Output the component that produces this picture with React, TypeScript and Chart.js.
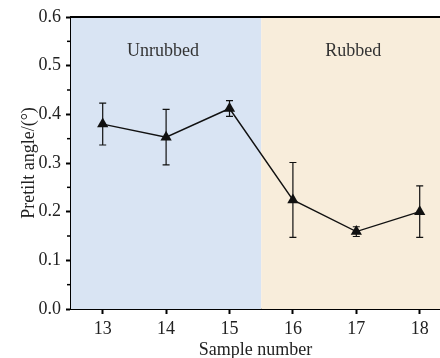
import React, { useEffect, useRef } from "react";
import { Chart, registerables } from "chart.js";

Chart.register(...registerables);

const samples = [13, 14, 15, 16, 17, 18];
const pretilt = [0.38, 0.353, 0.412, 0.224, 0.159, 0.2];
const errors = [0.043, 0.057, 0.016, 0.077, 0.01, 0.053];
const yTicks = [0, 0.1, 0.2, 0.3, 0.4, 0.5, 0.6];
const yMinorTicks = [0.05, 0.15, 0.25, 0.35, 0.45, 0.55];
const regionLabels = ["Unrubbed", "Rubbed"];
const regionSplit = 15.5;

const FONT = "'Liberation Serif', 'DejaVu Serif', serif";

const bgPlugin = {
  id: "bgRegions",
  beforeDatasetsDraw(chart: any) {
    const { ctx, chartArea, scales } = chart;
    const xs = scales.x.getPixelForValue(regionSplit);
    ctx.save();
    ctx.fillStyle = "#d9e4f3";
    ctx.fillRect(chartArea.left, chartArea.top, xs - chartArea.left, chartArea.bottom - chartArea.top);
    ctx.fillStyle = "#f8eddb";
    ctx.fillRect(xs, chartArea.top, chartArea.right - xs, chartArea.bottom - chartArea.top);
    ctx.fillStyle = "#333";
    ctx.font = "18px " + FONT;
    ctx.textAlign = "center";
    ctx.textBaseline = "middle";
    ctx.fillText(regionLabels[0], scales.x.getPixelForValue(13.95), scales.y.getPixelForValue(0.53));
    ctx.fillText(regionLabels[1], scales.x.getPixelForValue(16.95), scales.y.getPixelForValue(0.53));
    ctx.restore();
  },
};

const errPlugin = {
  id: "errBars",
  afterDatasetsDraw(chart: any) {
    const { ctx, scales } = chart;
    ctx.save();
    ctx.strokeStyle = "#111";
    ctx.lineWidth = 1.2;
    samples.forEach((s, i) => {
      const x = scales.x.getPixelForValue(s);
      const yt = scales.y.getPixelForValue(pretilt[i] + errors[i]);
      const yb = scales.y.getPixelForValue(pretilt[i] - errors[i]);
      ctx.beginPath();
      ctx.moveTo(x, yt);
      ctx.lineTo(x, yb);
      ctx.moveTo(x - 3.5, yt);
      ctx.lineTo(x + 3.5, yt);
      ctx.moveTo(x - 3.5, yb);
      ctx.lineTo(x + 3.5, yb);
      ctx.stroke();
    });
    ctx.restore();
  },
  afterDraw(chart: any) {
    const { ctx, chartArea, scales } = chart;
    ctx.save();
    ctx.strokeStyle = "#000";
    ctx.lineWidth = 2;
    ctx.beginPath();
    ctx.moveTo(chartArea.left - 1, chartArea.top);
    ctx.lineTo(chart.width, chartArea.top);
    ctx.stroke();
    ctx.lineWidth = 1.5;
    yMinorTicks.forEach((v) => {
      const y = scales.y.getPixelForValue(v);
      ctx.beginPath();
      ctx.moveTo(chartArea.left - 4, y);
      ctx.lineTo(chartArea.left, y);
      ctx.stroke();
    });
    ctx.restore();
  },
};

export default function App() {
  const ref = useRef<HTMLCanvasElement>(null);
  useEffect(() => {
    document.body.style.margin = "0";
    const chart = new Chart(ref.current!, {
      type: "line",
      data: {
        datasets: [
          {
            data: samples.map((s, i) => ({ x: s, y: pretilt[i] })),
            borderColor: "#111",
            borderWidth: 1.4,
            backgroundColor: "#111",
            pointStyle: "triangle",
            pointRadius: 6.5,
            pointBorderWidth: 0,
            pointBackgroundColor: "#111",
            tension: 0,
          },
        ],
      },
      options: {
        animation: false,
        responsive: false,
        maintainAspectRatio: false,
        layout: { autoPadding: false, padding: { top: 17, right: 0, left: 0, bottom: 0 } },
        plugins: { legend: { display: false }, tooltip: { enabled: false } },
        scales: {
          x: {
            type: "linear",
            min: 12.5,
            max: 18.32,
            afterBuildTicks: (axis: any) => {
              axis.ticks = samples.map((v) => ({ value: v }));
            },
            afterFit: (axis: any) => {
              axis.height = 49;
              axis.paddingRight = 0;
              axis.paddingLeft = 0;
            },
            ticks: {
              color: "#222",
              font: { family: FONT, size: 18 },
              padding: 4,
              callback: (v: any) => String(v),
            },
            grid: { drawOnChartArea: false, drawTicks: true, tickLength: 5, tickColor: "#000", tickWidth: 2 },
            border: { display: true, color: "#000", width: 2 },
            title: {
              display: true,
              text: "Sample number",
              color: "#222",
              font: { family: FONT, size: 18 },
              padding: { top: 0, bottom: -3 },
            },
          },
          y: {
            min: 0,
            max: 0.6,
            afterBuildTicks: (axis: any) => {
              axis.ticks = yTicks.map((v) => ({ value: v }));
            },
            afterFit: (axis: any) => {
              axis.width = 71;
            },
            ticks: {
              color: "#222",
              font: { family: FONT, size: 18 },
              padding: 5,
              callback: (v: any) => Number(v).toFixed(1),
            },
            grid: { drawOnChartArea: false, drawTicks: true, tickLength: 5, tickColor: "#000", tickWidth: 2 },
            border: { display: true, color: "#000", width: 2 },
            title: {
              display: true,
              text: "Pretilt angle/(°)",
              color: "#222",
              font: { family: FONT, size: 18 },
              padding: { top: 18, bottom: 0 },
            },
          },
        },
      },
      plugins: [bgPlugin, errPlugin],
    } as any);
    return () => chart.destroy();
  }, []);
  return (
    <div style={{ width: 440, height: 358 }}>
      <canvas ref={ref} width={440} height={358} style={{ display: "block" }} />
    </div>
  );
}
